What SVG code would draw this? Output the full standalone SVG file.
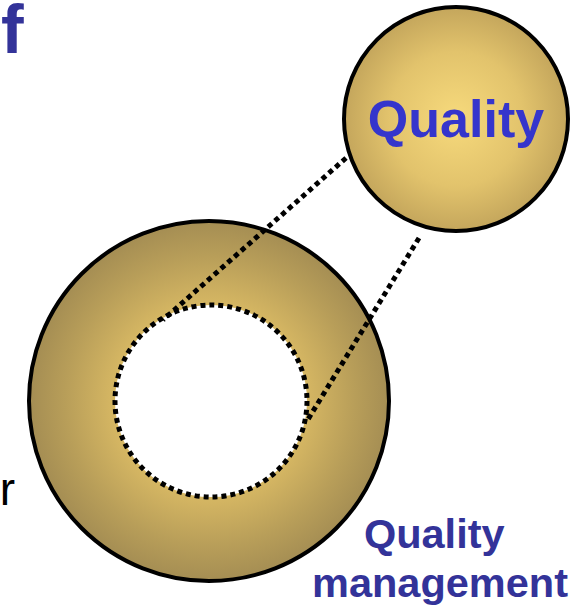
<svg xmlns="http://www.w3.org/2000/svg" width="586" height="609" viewBox="0 0 586 609">
  <style>
    .lbl { font-family: "Liberation Sans", Arial, sans-serif; font-weight: bold; }
    .outline { stroke: #000; stroke-width: 4; }
    .dots { fill: none; stroke: #000; stroke-width: 5; stroke-dasharray: 5 4; }
  </style>
  <defs>
    <radialGradient id="goldSmall" cx="0.5" cy="0.5" r="0.5">
      <stop offset="0" stop-color="#f7da7c"/>
      <stop offset="0.6" stop-color="#e2c36c"/>
      <stop offset="1" stop-color="#c4a65c"/>
    </radialGradient>
    <radialGradient id="goldRing" gradientUnits="userSpaceOnUse" cx="210" cy="401" r="181">
      <stop offset="0" stop-color="#e4c46a"/>
      <stop offset="0.53" stop-color="#d6b763"/>
      <stop offset="0.8" stop-color="#b89e59"/>
      <stop offset="1" stop-color="#a48d53"/>
    </radialGradient>
  </defs>

  <!-- panel letter -->
  <text class="lbl" x="1" y="53" font-size="68" fill="#333399">f</text>

  <!-- partial label at left edge -->
  <text x="15" y="505" font-family="Liberation Sans, Arial, sans-serif" font-size="46" fill="#000" text-anchor="end">r</text>

  <!-- outer ring: quality management -->
  <g id="ring">
    <circle cx="209" cy="401" r="180" fill="url(#goldRing)" class="outline"/>
    <circle cx="211" cy="401" r="96" fill="#fff"/>
  </g>

  <!-- zoom connectors -->
  <g id="connectors">
    <line class="dots" x1="346" y1="158" x2="163" y2="320"/>
    <line class="dots" x1="419" y1="238" x2="307" y2="421"/>
  </g>

  <!-- dotted inner core boundary -->
  <g id="core">
    <circle cx="211" cy="401" r="96" class="dots"/>
  </g>

  <!-- magnified quality circle -->
  <g id="quality">
    <circle cx="456" cy="119" r="112" fill="url(#goldSmall)" class="outline"/>
    <text class="lbl" x="456" y="137" font-size="52" fill="#3535cc" text-anchor="middle">Quality</text>
  </g>

  <!-- ring caption -->
  <g id="caption">
    <text class="lbl" font-size="41.5" fill="#333399" text-anchor="middle">
      <tspan x="440" y="548">Quality</tspan>
      <tspan x="440" y="597">management</tspan>
    </text>
  </g>
</svg>
